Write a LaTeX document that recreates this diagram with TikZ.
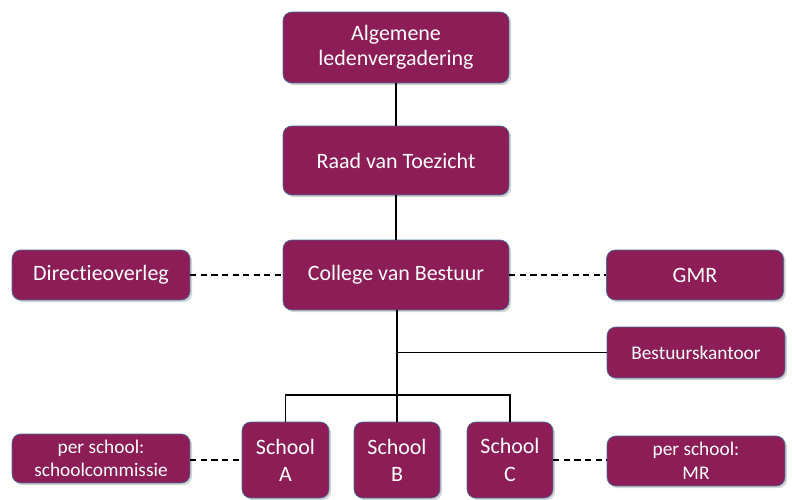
\documentclass[tikz,border=0pt]{standalone}
\usepackage{fontspec}
\setmainfont[Ligatures=NoCommon]{Carlito}
\usetikzlibrary{shadows}
\definecolor{boxfill}{RGB}{140,29,87}
\definecolor{boxline}{RGB}{70,110,150}
\tikzset{
  orgbox/.style={draw=boxline, line width=0.4pt, fill=boxfill, text=white,
    rounded corners=5pt, align=center, font=\fontsize{12.5}{14.5}\selectfont,
    drop shadow={opacity=0.35, shadow xshift=1.2pt, shadow yshift=-1.2pt}},
  smallbox/.style={orgbox, font=\fontsize{11}{13.5}\selectfont},
  link/.style={line width=0.8pt},
  dashlink/.style={line width=0.8pt, dash pattern=on 3.5pt off 2.5pt}
}
\begin{document}
\begin{tikzpicture}[x=0.02cm, y=-0.02cm]
        \useasboundingbox (0,0) rectangle (792,500);
        % Top
        \node[orgbox, minimum width=4.52cm, minimum height=1.42cm] (alv) at (396,47.5) {Algemene\\ledenvergadering};
        \node[orgbox, minimum width=4.52cm, minimum height=1.38cm] (rvt) at (396,160.5) {Raad van Toezicht};
        \node[orgbox, minimum width=4.52cm, minimum height=1.40cm] (cvb) at (396,275) {College van Bestuur};
        % Sides
        \node[orgbox, minimum width=3.56cm, minimum height=1.0cm] (dir) at (101,275) {Directieoverleg};
        \node[orgbox, minimum width=3.54cm, minimum height=1.0cm] (gmr) at (695,275) {GMR};
        \node[smallbox, minimum width=3.56cm, minimum height=1.02cm] (bk) at (696,352.5) {Bestuurskantoor};
        % Schools
        \node[orgbox, minimum width=1.74cm, minimum height=1.52cm, font=\fontsize{12.5}{15.5}\selectfont] (schA) at (285.5,460) {School\\A};
        \node[orgbox, minimum width=1.72cm, minimum height=1.52cm, font=\fontsize{12.5}{15.5}\selectfont] (schB) at (397,460) {School\\B};
        \node[orgbox, minimum width=1.72cm, minimum height=1.52cm, font=\fontsize{12.5}{15.5}\selectfont] (schC) at (510,460) {School\\C};
        \node[smallbox, minimum width=3.56cm, minimum height=0.98cm] (sc) at (101,458.5) {per school:\\schoolcommissie};
        \node[smallbox, minimum width=3.56cm, minimum height=1.0cm] (mr) at (696,461) {per school:\\MR};
        % Lines
        \coordinate (bus) at (397,395);
        \draw[link] (alv.south) -- (rvt.north);
        \draw[link] (rvt.south) -- (cvb.north);
        \draw[link] (cvb.south -| schB.north) -- (schB.north);
        \draw[link] (schB.north |- bk.west) -- (bk.west);
        \draw[link] (schA.north) |- (bus) -| (schC.north);
        \draw[dashlink] (dir.east) -- (cvb.west);
        \draw[dashlink] (cvb.east) -- (gmr.west);
        \draw[dashlink] (sc.east |- schA.west) -- (schA.west);
        \draw[dashlink] (schC.east) -- (mr.west |- schC.east);
\end{tikzpicture}
\end{document}
